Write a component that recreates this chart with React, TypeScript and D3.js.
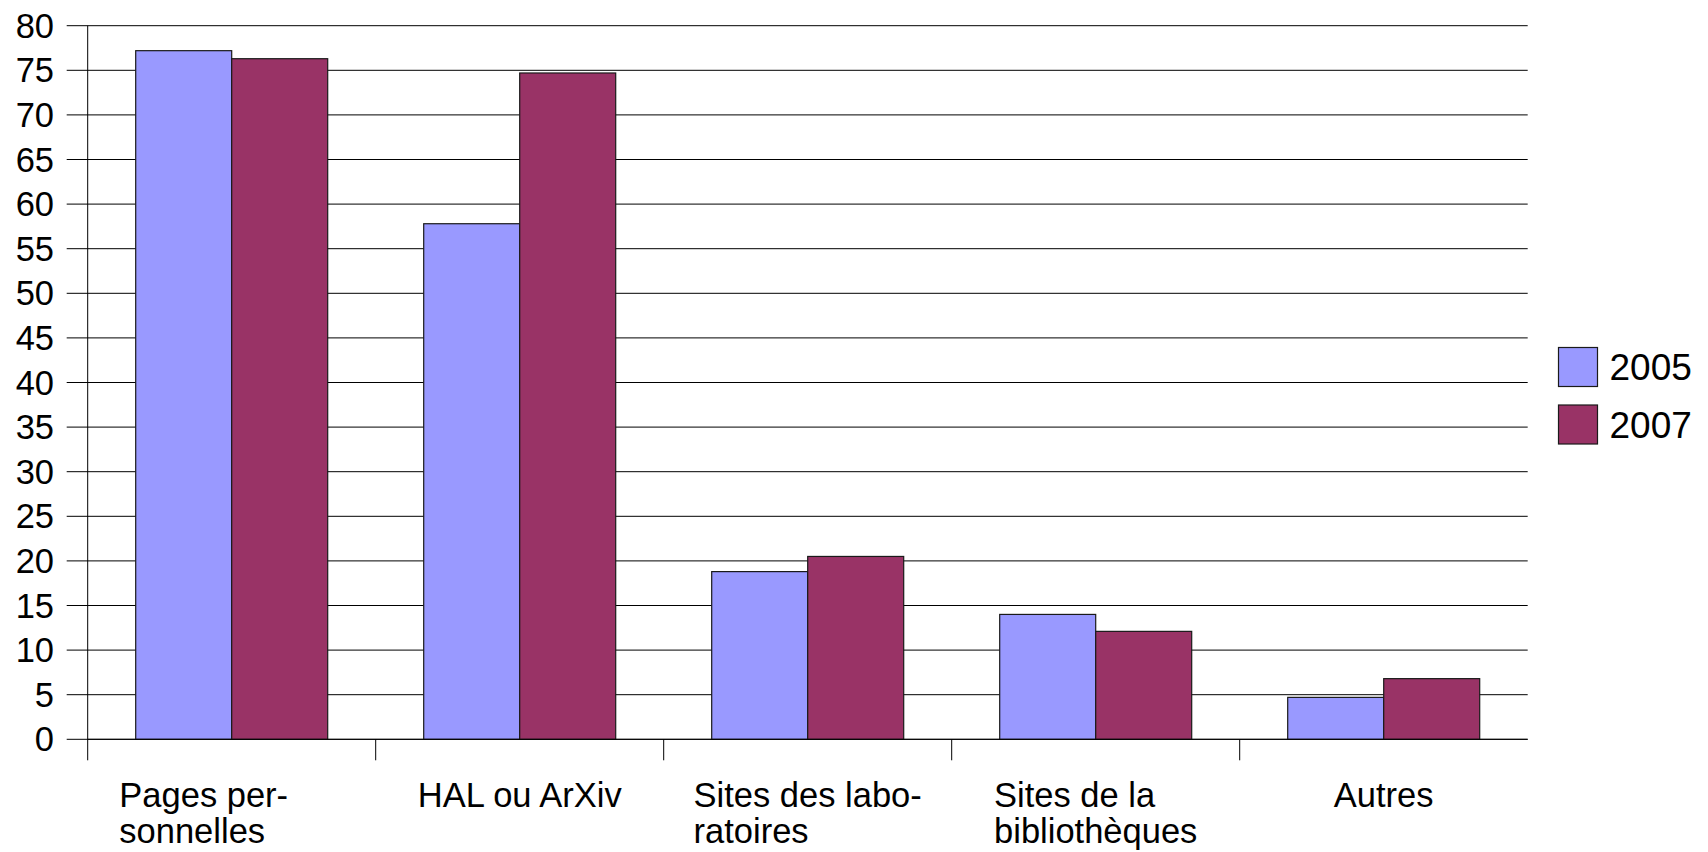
import * as d3 from 'd3';
import React, { useEffect, useRef } from 'react';

// categories (label lines split on \n), series names and values
const categories = [
  'Pages per-\nsonnelles',
  'HAL ou ArXiv',
  'Sites des labo-\nratoires',
  'Sites de la\nbibliothèques',
  'Autres'
];
const seriesNames = ['2005', '2007'];
const values2005 = [77.2, 57.8, 18.8, 14.0, 4.7];
const values2007 = [76.3, 74.7, 20.5, 12.1, 6.8];
const seriesColors = ['#9999ff', '#993366'];
const yTickValues = [0, 5, 10, 15, 20, 25, 30, 35, 40, 45, 50, 55, 60, 65, 70, 75, 80];

const App = () => {
  const svgRef = useRef<SVGSVGElement>(null);

  useEffect(() => {
    const width = 1708;
    const height = 852;
    const font = '"Liberation Sans", Arial, sans-serif';

    //plot area edges
    const left = 87.7;
    const right = 1527.7;
    const top = 25.7;
    const bottom = 739.3;
    const tickLen = 21;

    const svg = d3
      .select(svgRef.current)
      .attr('width', width)
      .attr('height', height)
      .attr('viewBox', `0 0 ${width} ${height}`)
      .style('font-family', font);

    svg.selectAll('*').remove();

    const x0 = d3.scaleBand<string>().domain(categories).range([left, right]).padding(0);
    const x1 = d3
      .scaleBand<string>()
      .domain(seriesNames)
      .range([0, x0.bandwidth()])
      .paddingInner(0)
      .paddingOuter(0.5);
    const y = d3.scaleLinear().domain([0, 80]).range([bottom, top]);

    //horizontal grid lines, they run out to the left as tick marks
    svg
      .append('g')
      .selectAll('line')
      .data(yTickValues)
      .enter()
      .append('line')
      .attr('x1', left - tickLen)
      .attr('x2', right)
      .attr('y1', (d) => y(d))
      .attr('y2', (d) => y(d))
      .attr('stroke', '#000')
      .attr('stroke-width', 1);

    //y tick labels
    svg
      .append('g')
      .selectAll('text')
      .data(yTickValues)
      .enter()
      .append('text')
      .attr('x', 54)
      .attr('y', (d) => y(d))
      .attr('dy', '0.35em')
      .attr('text-anchor', 'end')
      .attr('font-size', 34.5)
      .attr('fill', '#000')
      .text((d) => d);

    //bars
    const rows = categories.map((c, i) => ({
      cat: c,
      vals: [values2005[i], values2007[i]]
    }));

    const groups = svg
      .append('g')
      .selectAll('g')
      .data(rows)
      .enter()
      .append('g')
      .attr('transform', (d) => `translate(${x0(d.cat)}, 0)`);

    groups
      .selectAll('rect')
      .data((d) => d.vals.map((v, j) => ({ name: seriesNames[j], v, j })))
      .enter()
      .append('rect')
      .attr('x', (d) => x1(d.name) as number)
      .attr('y', (d) => y(d.v))
      .attr('width', x1.bandwidth())
      .attr('height', (d) => y(0) - y(d.v))
      .attr('fill', (d) => seriesColors[d.j])
      .attr('stroke', '#1a1a1a')
      .attr('stroke-width', 1.2);

    //y axis line, continues down as the first category tick
    svg
      .append('line')
      .attr('x1', left)
      .attr('x2', left)
      .attr('y1', top)
      .attr('y2', bottom + tickLen)
      .attr('stroke', '#000');

    //baseline
    svg
      .append('line')
      .attr('x1', left)
      .attr('x2', right)
      .attr('y1', bottom)
      .attr('y2', bottom)
      .attr('stroke', '#000');

    //category separators
    svg
      .append('g')
      .selectAll('line')
      .data(categories.slice(1))
      .enter()
      .append('line')
      .attr('x1', (d) => x0(d) as number)
      .attr('x2', (d) => x0(d) as number)
      .attr('y1', bottom)
      .attr('y2', bottom + tickLen)
      .attr('stroke', '#000');

    //category labels: lines left aligned, block centred under the band
    categories.forEach((c, i) => {
      const lines = c.split('\n');
      const t = svg
        .append('text')
        .attr('font-size', 34.5)
        .attr('fill', '#000');
      lines.forEach((l, k) => {
        t.append('tspan').attr('y', 807 + k * 36).text(l);
      });
      const widths: number[] = [];
      t.selectAll<SVGTSpanElement, unknown>('tspan').each(function () {
        widths.push(this.getComputedTextLength());
      });
      const maxW = d3.max(widths) || 0;
      const nudge = i === 0 ? -28 : 0;
      const cx = (x0(c) as number) + x0.bandwidth() / 2 + nudge;
      t.selectAll('tspan').attr('x', cx - maxW / 2);
    });

    //legend
    const legend = svg
      .append('g')
      .selectAll('g')
      .data(seriesNames)
      .enter()
      .append('g')
      .attr('transform', (d, i) => `translate(1558.5, ${347.5 + i * 57.5})`);

    legend
      .append('rect')
      .attr('width', 39)
      .attr('height', 39)
      .attr('fill', (d, i) => seriesColors[i])
      .attr('stroke', '#1a1a1a')
      .attr('stroke-width', 1.2);

    legend
      .append('text')
      .attr('x', 51)
      .attr('y', 32.5)
      .attr('font-size', 37)
      .attr('fill', '#000')
      .text((d) => d);
  }, []);

  return (
    <div style={{ position: 'absolute', left: 0, top: 0, background: '#fff' }}>
      <svg ref={svgRef} style={{ display: 'block' }}></svg>
    </div>
  );
};

export default App;
